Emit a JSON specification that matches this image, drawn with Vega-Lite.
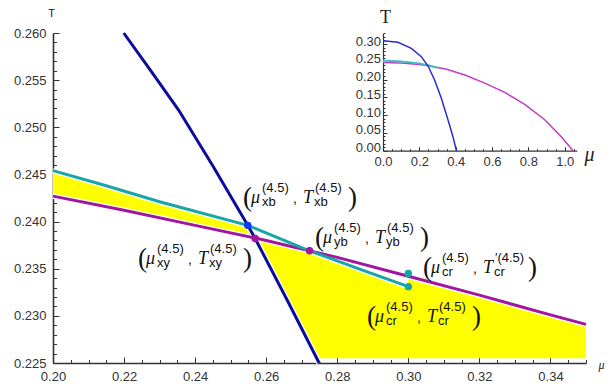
{
  "$schema": "https://vega.github.io/schema/vega-lite/v6.json",
  "width": 533,
  "height": 330,
  "autosize": {"type": "none"},
  "padding": {"left": 53, "top": 33, "right": 24, "bottom": 24},
  "background": "white",
  "config": {
    "view": {"stroke": null},
    "axis": {"grid": false, "labelFont": "Liberation Sans", "labelColor": "#333333", "tickColor": "#333333", "domainColor": "#333333", "labelFlush": false, "labelOverlap": false, "titleFontWeight": "normal", "titleColor": "#222222"}
  },
  "datasets": {
    "main": [
      {"curve": "y", "mu": 0.20, "T": 0.2427},
      {"curve": "y", "mu": 0.22, "T": 0.2412},
      {"curve": "y", "mu": 0.24, "T": 0.2396},
      {"curve": "y", "mu": 0.26, "T": 0.2380},
      {"curve": "y", "mu": 0.28, "T": 0.2362},
      {"curve": "y", "mu": 0.30, "T": 0.2342},
      {"curve": "y", "mu": 0.32, "T": 0.2322},
      {"curve": "y", "mu": 0.34, "T": 0.2301},
      {"curve": "y", "mu": 0.35, "T": 0.2291},
      {"curve": "b", "mu": 0.20, "T": 0.2454},
      {"curve": "b", "mu": 0.215, "T": 0.2438},
      {"curve": "b", "mu": 0.23, "T": 0.2421},
      {"curve": "b", "mu": 0.2548, "T": 0.2396},
      {"curve": "b", "mu": 0.2722, "T": 0.2369},
      {"curve": "b", "mu": 0.2867, "T": 0.2349},
      {"curve": "b", "mu": 0.30, "T": 0.2331},
      {"curve": "x", "mu": 0.2199, "T": 0.2600},
      {"curve": "x", "mu": 0.2275, "T": 0.2560},
      {"curve": "x", "mu": 0.2354, "T": 0.2518},
      {"curve": "x", "mu": 0.2450, "T": 0.2459},
      {"curve": "x", "mu": 0.2548, "T": 0.2396},
      {"curve": "x", "mu": 0.2569, "T": 0.2382},
      {"curve": "x", "mu": 0.2660, "T": 0.2316},
      {"curve": "x", "mu": 0.2749, "T": 0.2250}
    ],
    "band": [
      {"mu": 0.20, "hi": 0.2454, "lo": 0.2427},
      {"mu": 0.215, "hi": 0.2438, "lo": 0.24155},
      {"mu": 0.23, "hi": 0.2421, "lo": 0.2404},
      {"mu": 0.2548, "hi": 0.2396, "lo": 0.23842},
      {"mu": 0.2569, "hi": 0.2382, "lo": 0.2382}
    ],
    "region": [
      {"mu": 0.2569, "hi": 0.2382, "lo": 0.2382},
      {"mu": 0.26, "hi": 0.2380, "lo": 0.23595},
      {"mu": 0.2722, "hi": 0.2369, "lo": 0.22711},
      {"mu": 0.2742, "hi": 0.2366, "lo": 0.2255},
      {"mu": 0.28, "hi": 0.2358, "lo": 0.2255},
      {"mu": 0.2867, "hi": 0.2349, "lo": 0.2255},
      {"mu": 0.30, "hi": 0.2331, "lo": 0.2255},
      {"mu": 0.30, "hi": 0.2342, "lo": 0.2255},
      {"mu": 0.32, "hi": 0.2322, "lo": 0.2255},
      {"mu": 0.34, "hi": 0.2301, "lo": 0.2255},
      {"mu": 0.35, "hi": 0.2291, "lo": 0.2255}
    ],
    "dots": [
      {"pt": "xb", "mu": 0.2548, "T": 0.2396},
      {"pt": "xy", "mu": 0.2569, "T": 0.2382},
      {"pt": "yb", "mu": 0.2722, "T": 0.2369},
      {"pt": "crp", "mu": 0.30, "T": 0.2345},
      {"pt": "cr", "mu": 0.30, "T": 0.2331}
    ],
    "labels": [
      {"pt": "xb", "mu": 0.25347, "T": 0.24197, "sub": "xb", "supT": "(4.5)"},
      {"pt": "yb", "mu": 0.27373, "T": 0.23773, "sub": "yb", "supT": "(4.5)"},
      {"pt": "xy", "mu": 0.22392, "T": 0.23550, "sub": "xy", "supT": "(4.5)"},
      {"pt": "crp", "mu": 0.30413, "T": 0.23458, "sub": "cr", "supT": "′(4.5)"},
      {"pt": "cr", "mu": 0.28837, "T": 0.22938, "sub": "cr", "supT": "(4.5)"}
    ],
    "inset": [
      {"curve": "x", "mu": 0.0, "T": 0.309},
      {"curve": "x", "mu": 0.0826, "T": 0.3047},
      {"curve": "x", "mu": 0.156, "T": 0.2878},
      {"curve": "x", "mu": 0.211, "T": 0.2644},
      {"curve": "x", "mu": 0.248, "T": 0.2381},
      {"curve": "x", "mu": 0.284, "T": 0.1987},
      {"curve": "x", "mu": 0.321, "T": 0.1472},
      {"curve": "x", "mu": 0.358, "T": 0.0862},
      {"curve": "x", "mu": 0.385, "T": 0.0394},
      {"curve": "x", "mu": 0.404, "T": 0.0},
      {"curve": "b", "mu": 0.0, "T": 0.2530},
      {"curve": "b", "mu": 0.05, "T": 0.2523},
      {"curve": "b", "mu": 0.10, "T": 0.2508},
      {"curve": "b", "mu": 0.15, "T": 0.2485},
      {"curve": "b", "mu": 0.20, "T": 0.2454},
      {"curve": "b", "mu": 0.23, "T": 0.2421},
      {"curve": "b", "mu": 0.2548, "T": 0.2396},
      {"curve": "b", "mu": 0.2722, "T": 0.2369},
      {"curve": "b", "mu": 0.30, "T": 0.2331},
      {"curve": "y", "mu": 0.0, "T": 0.2480},
      {"curve": "y", "mu": 0.10, "T": 0.2463},
      {"curve": "y", "mu": 0.20, "T": 0.2427},
      {"curve": "y", "mu": 0.26, "T": 0.2380},
      {"curve": "y", "mu": 0.30, "T": 0.2342},
      {"curve": "y", "mu": 0.35, "T": 0.2291},
      {"curve": "y", "mu": 0.45, "T": 0.2130},
      {"curve": "y", "mu": 0.56, "T": 0.1900},
      {"curve": "y", "mu": 0.67, "T": 0.1640},
      {"curve": "y", "mu": 0.78, "T": 0.1300},
      {"curve": "y", "mu": 0.89, "T": 0.0870},
      {"curve": "y", "mu": 0.98, "T": 0.0400},
      {"curve": "y", "mu": 1.046, "T": 0.0}
    ]
  },
  "layer": [
    {
      "layer": [
        {
          "data": {"name": "band"},
          "mark": {"type": "area", "color": "#ffff00", "opacity": 1},
          "encoding": {
            "x": {"field": "mu", "type": "quantitative", "scale": {"domain": [0.2, 0.35], "nice": false, "zero": false},
              "axis": {
                "orient": "bottom",
                "values": [0.2,0.22,0.24,0.26,0.28,0.3,0.32,0.34],
                "format": ".2f", "labelOverlap": false,
                "tickSize": -6, "labelPadding": 13, "labelFontSize": 13, "domainWidth": 1.6,
                "title": "μ", "titleX": 548, "titleY": 1, "titleAngle": 0, "titleAlign": "center", "titleBaseline": "middle",
                "titleFont": "Liberation Serif", "titleFontStyle": "italic", "titleFontSize": 12
              }},
            "y": {"field": "hi", "type": "quantitative", "scale": {"domain": [0.225, 0.26], "nice": false, "zero": false},
              "axis": {
                "orient": "left",
                "values": [0.225,0.23,0.235,0.24,0.245,0.25,0.255,0.26],
                "format": ".3f", "labelOverlap": false,
                "tickSize": -6, "labelPadding": 13, "labelFontSize": 13, "domainWidth": 1.6,
                "title": "T", "titleX": -2, "titleY": -20, "titleAngle": 0, "titleAlign": "center", "titleBaseline": "middle",
                "titleFont": "Liberation Sans", "titleFontSize": 11
              }},
            "y2": {"field": "lo"}
          }
        },
        {
          "data": {"name": "region"},
          "mark": {"type": "area", "color": "#ffff00", "opacity": 1},
          "encoding": {
            "x": {"field": "mu", "type": "quantitative", "scale": {"domain": [0.2, 0.35], "nice": false, "zero": false},
              "axis": {
                "orient": "bottom",
                "values": [0.205,0.21,0.215,0.225,0.23,0.235,0.245,0.25,0.255,0.265,0.27,0.275,0.285,0.29,0.295,0.305,0.31,0.315,0.325,0.33,0.335,0.345,0.35],
                "labels": false, "domain": false, "tickSize": -3.5, "title": null
              }},
            "y": {"field": "hi", "type": "quantitative", "scale": {"domain": [0.225, 0.26], "nice": false, "zero": false},
              "axis": {
                "orient": "left",
                "values": [0.226,0.227,0.228,0.229,0.231,0.232,0.233,0.234,0.236,0.237,0.238,0.239,0.241,0.242,0.243,0.244,0.246,0.247,0.248,0.249,0.251,0.252,0.253,0.254,0.256,0.257,0.258,0.259],
                "labels": false, "domain": false, "tickSize": -3.5, "title": null
              }},
            "y2": {"field": "lo"}
          }
        },
        {
          "data": {"name": "main"},
          "mark": {"type": "line", "color": "#ffffff", "strokeWidth": 5.5},
          "encoding": {
            "x": {"field": "mu", "type": "quantitative", "scale": {"domain": [0.2, 0.35], "nice": false, "zero": false}, "axis": null},
            "y": {"field": "T", "type": "quantitative", "scale": {"domain": [0.225, 0.26], "nice": false, "zero": false}, "axis": null},
            "detail": {"field": "curve", "type": "nominal"}
          }
        },
        {
          "data": {"name": "main"},
          "transform": [{"filter": "datum.curve == 'y'"}],
          "mark": {"type": "line", "color": "#a1169e", "strokeWidth": 3},
          "encoding": {
            "x": {"field": "mu", "type": "quantitative", "scale": {"domain": [0.2, 0.35], "nice": false, "zero": false}, "axis": null},
            "y": {"field": "T", "type": "quantitative", "scale": {"domain": [0.225, 0.26], "nice": false, "zero": false}, "axis": null}
          }
        },
        {
          "data": {"name": "main"},
          "transform": [{"filter": "datum.curve == 'b'"}],
          "mark": {"type": "line", "color": "#17a6a8", "strokeWidth": 3},
          "encoding": {
            "x": {"field": "mu", "type": "quantitative", "scale": {"domain": [0.2, 0.35], "nice": false, "zero": false}, "axis": null},
            "y": {"field": "T", "type": "quantitative", "scale": {"domain": [0.225, 0.26], "nice": false, "zero": false}, "axis": null}
          }
        },
        {
          "data": {"name": "main"},
          "transform": [{"filter": "datum.curve == 'x'"}],
          "mark": {"type": "line", "color": "#0c0c9c", "strokeWidth": 3},
          "encoding": {
            "x": {"field": "mu", "type": "quantitative", "scale": {"domain": [0.2, 0.35], "nice": false, "zero": false}, "axis": null},
            "y": {"field": "T", "type": "quantitative", "scale": {"domain": [0.225, 0.26], "nice": false, "zero": false}, "axis": null}
          }
        },
        {
          "data": {"name": "dots"},
          "transform": [{"filter": "datum.pt == 'xb'"}],
          "mark": {"type": "circle", "color": "#0a3af2", "opacity": 1, "size": 55},
          "encoding": {
            "x": {"field": "mu", "type": "quantitative", "scale": {"domain": [0.2, 0.35], "nice": false, "zero": false}, "axis": null},
            "y": {"field": "T", "type": "quantitative", "scale": {"domain": [0.225, 0.26], "nice": false, "zero": false}, "axis": null}
          }
        },
        {
          "data": {"name": "dots"},
          "transform": [{"filter": "datum.pt == 'xy' || datum.pt == 'yb'"}],
          "mark": {"type": "circle", "color": "#a1169e", "opacity": 1, "size": 55},
          "encoding": {
            "x": {"field": "mu", "type": "quantitative", "scale": {"domain": [0.2, 0.35], "nice": false, "zero": false}, "axis": null},
            "y": {"field": "T", "type": "quantitative", "scale": {"domain": [0.225, 0.26], "nice": false, "zero": false}, "axis": null}
          }
        },
        {
          "data": {"name": "dots"},
          "transform": [{"filter": "datum.pt == 'cr' || datum.pt == 'crp'"}],
          "mark": {"type": "circle", "color": "#17a6a8", "opacity": 1, "size": 55},
          "encoding": {
            "x": {"field": "mu", "type": "quantitative", "scale": {"domain": [0.2, 0.35], "nice": false, "zero": false}, "axis": null},
            "y": {"field": "T", "type": "quantitative", "scale": {"domain": [0.225, 0.26], "nice": false, "zero": false}, "axis": null}
          }
        },
        {
          "data": {"name": "labels"},
          "mark": {"type": "text", "text": "(", "align": "left", "baseline": "alphabetic", "dx": 0, "dy": 3, "font": "Liberation Serif", "fontSize": 27, "color": "#111111"},
          "encoding": {
            "x": {"field": "mu", "type": "quantitative", "scale": {"domain": [0.2, 0.35], "nice": false, "zero": false}, "axis": null},
            "y": {"field": "T", "type": "quantitative", "scale": {"domain": [0.225, 0.26], "nice": false, "zero": false}, "axis": null}
          }
        },
        {
          "data": {"name": "labels"},
          "mark": {"type": "text", "text": "μ", "align": "left", "baseline": "alphabetic", "dx": 8, "dy": 0, "font": "Liberation Serif", "fontStyle": "italic", "fontSize": 18, "color": "#111111"},
          "encoding": {
            "x": {"field": "mu", "type": "quantitative", "scale": {"domain": [0.2, 0.35], "nice": false, "zero": false}, "axis": null},
            "y": {"field": "T", "type": "quantitative", "scale": {"domain": [0.225, 0.26], "nice": false, "zero": false}, "axis": null}
          }
        },
        {
          "data": {"name": "labels"},
          "mark": {"type": "text", "text": "(4.5)", "align": "left", "baseline": "alphabetic", "dx": 19, "dy": -11, "font": "Liberation Sans", "fontSize": 13, "color": "#111111"},
          "encoding": {
            "x": {"field": "mu", "type": "quantitative", "scale": {"domain": [0.2, 0.35], "nice": false, "zero": false}, "axis": null},
            "y": {"field": "T", "type": "quantitative", "scale": {"domain": [0.225, 0.26], "nice": false, "zero": false}, "axis": null}
          }
        },
        {
          "data": {"name": "labels"},
          "mark": {"type": "text", "align": "left", "baseline": "alphabetic", "dx": 19, "dy": 3, "font": "Liberation Sans", "fontSize": 13, "color": "#111111"},
          "encoding": {
            "x": {"field": "mu", "type": "quantitative", "scale": {"domain": [0.2, 0.35], "nice": false, "zero": false}, "axis": null},
            "y": {"field": "T", "type": "quantitative", "scale": {"domain": [0.225, 0.26], "nice": false, "zero": false}, "axis": null},
            "text": {"field": "sub"}
          }
        },
        {
          "data": {"name": "labels"},
          "mark": {"type": "text", "text": ",", "align": "left", "baseline": "alphabetic", "dx": 50, "dy": 0, "font": "Liberation Sans", "fontSize": 14, "color": "#111111"},
          "encoding": {
            "x": {"field": "mu", "type": "quantitative", "scale": {"domain": [0.2, 0.35], "nice": false, "zero": false}, "axis": null},
            "y": {"field": "T", "type": "quantitative", "scale": {"domain": [0.225, 0.26], "nice": false, "zero": false}, "axis": null}
          }
        },
        {
          "data": {"name": "labels"},
          "mark": {"type": "text", "text": "T", "align": "left", "baseline": "alphabetic", "dx": 60, "dy": 0, "font": "Liberation Serif", "fontStyle": "italic", "fontSize": 18, "color": "#111111"},
          "encoding": {
            "x": {"field": "mu", "type": "quantitative", "scale": {"domain": [0.2, 0.35], "nice": false, "zero": false}, "axis": null},
            "y": {"field": "T", "type": "quantitative", "scale": {"domain": [0.225, 0.26], "nice": false, "zero": false}, "axis": null}
          }
        },
        {
          "data": {"name": "labels"},
          "mark": {"type": "text", "align": "left", "baseline": "alphabetic", "dx": 72, "dy": -11, "font": "Liberation Sans", "fontSize": 13, "color": "#111111"},
          "encoding": {
            "x": {"field": "mu", "type": "quantitative", "scale": {"domain": [0.2, 0.35], "nice": false, "zero": false}, "axis": null},
            "y": {"field": "T", "type": "quantitative", "scale": {"domain": [0.225, 0.26], "nice": false, "zero": false}, "axis": null},
            "text": {"field": "supT"}
          }
        },
        {
          "data": {"name": "labels"},
          "mark": {"type": "text", "align": "left", "baseline": "alphabetic", "dx": 71, "dy": 3, "font": "Liberation Sans", "fontSize": 13, "color": "#111111"},
          "encoding": {
            "x": {"field": "mu", "type": "quantitative", "scale": {"domain": [0.2, 0.35], "nice": false, "zero": false}, "axis": null},
            "y": {"field": "T", "type": "quantitative", "scale": {"domain": [0.225, 0.26], "nice": false, "zero": false}, "axis": null},
            "text": {"field": "sub"}
          }
        },
        {
          "data": {"name": "labels"},
          "mark": {"type": "text", "text": ")", "align": "left", "baseline": "alphabetic", "dx": 105, "dy": 3, "font": "Liberation Serif", "fontSize": 27, "color": "#111111"},
          "encoding": {
            "x": {"field": "mu", "type": "quantitative", "scale": {"domain": [0.2, 0.35], "nice": false, "zero": false}, "axis": null},
            "y": {"field": "T", "type": "quantitative", "scale": {"domain": [0.225, 0.26], "nice": false, "zero": false}, "axis": null}
          }
        }
      ],
      "resolve": {"axis": {"x": "independent", "y": "independent"}}
    },
    {
      "layer": [
        {
          "data": {"name": "inset"},
          "transform": [{"filter": "datum.curve == 'y'"}],
          "mark": {"type": "line", "color": "#c13cc4", "strokeWidth": 1.5},
          "encoding": {
            "x": {"field": "mu", "type": "quantitative", "scale": {"domain": [0, 1.066], "range": [330, 523.7], "nice": false, "zero": false},
              "axis": {
                "orient": "bottom", "offset": -212.3,
                "values": [0,0.2,0.4,0.6,0.8,1.0],
                "format": ".1f", "labelOverlap": false,
                "tickSize": -4, "labelPadding": 9, "labelFontSize": 13, "domainWidth": 1.2,
                "title": "μ", "titleX": 536, "titleY": 4, "titleAngle": 0, "titleAlign": "center", "titleBaseline": "middle",
                "titleFont": "Liberation Serif", "titleFontStyle": "italic", "titleFontSize": 20
              }},
            "y": {"field": "T", "type": "quantitative", "scale": {"domain": [0, 0.33], "range": [117.7, 0.35], "nice": false, "zero": false},
              "axis": {
                "orient": "left", "offset": -330,
                "values": [0,0.05,0.1,0.15,0.2,0.25,0.3],
                "format": ".2f", "labelOverlap": false, "labelOffset": -3,
                "tickSize": -4, "labelPadding": 6.5, "labelFontSize": 13, "domainWidth": 1.2,
                "title": "T", "titleX": 2, "titleY": -16, "titleAngle": 0, "titleAlign": "center", "titleBaseline": "middle",
                "titleFont": "Liberation Serif", "titleFontSize": 18
              }}
          }
        },
        {
          "data": {"name": "inset"},
          "transform": [{"filter": "datum.curve == 'b'"}],
          "mark": {"type": "line", "color": "#3cc0c2", "strokeWidth": 1.8},
          "encoding": {
            "x": {"field": "mu", "type": "quantitative", "scale": {"domain": [0, 1.066], "range": [330, 523.7], "nice": false, "zero": false},
              "axis": {
                "orient": "bottom", "offset": -212.3,
                "values": [0.05,0.1,0.15,0.25,0.3,0.35,0.45,0.5,0.55,0.65,0.7,0.75,0.85,0.9,0.95,1.05],
                "labels": false, "domain": false, "tickSize": -2, "title": null
              }},
            "y": {"field": "T", "type": "quantitative", "scale": {"domain": [0, 0.33], "range": [117.7, 0.35], "nice": false, "zero": false},
              "axis": {
                "orient": "left", "offset": -330,
                "values": [0.01,0.02,0.03,0.04,0.06,0.07,0.08,0.09,0.11,0.12,0.13,0.14,0.16,0.17,0.18,0.19,0.21,0.22,0.23,0.24,0.26,0.27,0.28,0.29,0.31,0.32,0.33],
                "labels": false, "domain": false, "tickSize": -2, "title": null
              }}
          }
        },
        {
          "data": {"name": "inset"},
          "transform": [{"filter": "datum.curve == 'x'"}],
          "mark": {"type": "line", "color": "#2b2bcf", "strokeWidth": 1.5},
          "encoding": {
            "x": {"field": "mu", "type": "quantitative", "scale": {"domain": [0, 1.066], "range": [330, 523.7], "nice": false, "zero": false}, "axis": null},
            "y": {"field": "T", "type": "quantitative", "scale": {"domain": [0, 0.33], "range": [117.7, 0.35], "nice": false, "zero": false}, "axis": null}
          }
        }
      ],
      "resolve": {"axis": {"x": "independent", "y": "independent"}}
    }
  ],
  "resolve": {"scale": {"x": "independent", "y": "independent"}, "axis": {"x": "independent", "y": "independent"}}
}
